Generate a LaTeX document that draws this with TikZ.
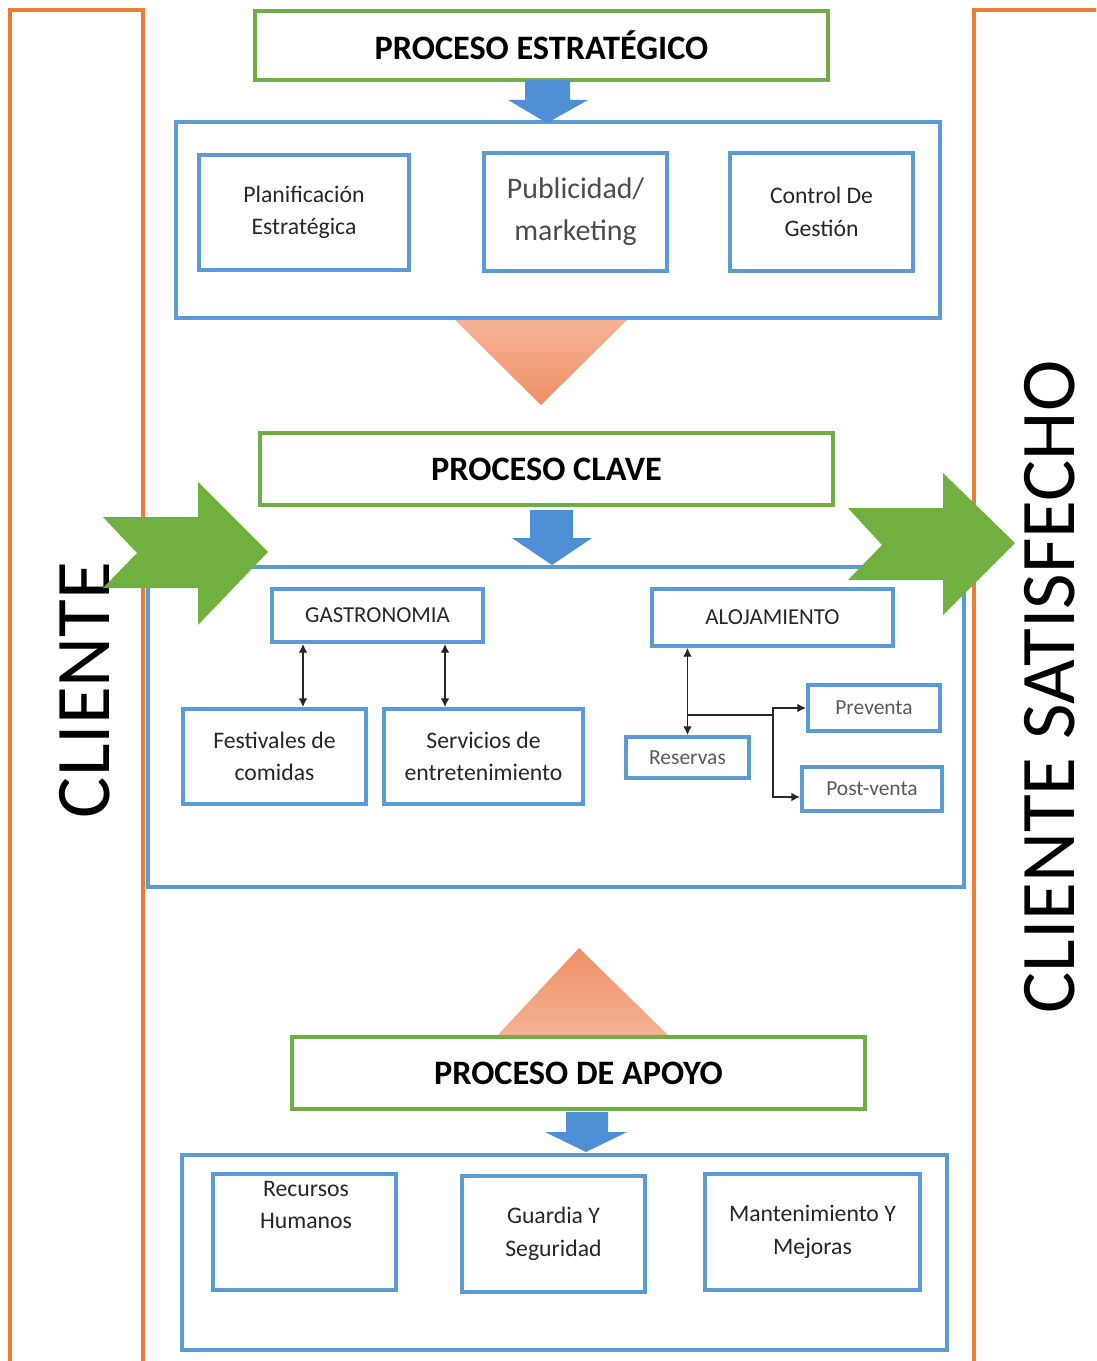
\documentclass[tikz,border=0pt]{standalone}
\usepackage{fontspec}
\setmainfont{Carlito}
\usetikzlibrary{arrows.meta}

\definecolor{boxblue}{HTML}{5B9BD5}
\definecolor{boxgreen}{HTML}{70AD47}
\definecolor{frameorange}{HTML}{ED7D31}
\definecolor{arrowgreen}{HTML}{70B03F}
\definecolor{arrowblue}{HTML}{4F8FD6}
\definecolor{trilight}{HTML}{F6B393}
\definecolor{tridark}{HTML}{EE8F66}

\tikzset{
  bluebox/.style={draw=boxblue, line width=2.2pt, inner sep=0pt, align=center, text=black!85},
  greenbox/.style={draw=boxgreen, line width=2.3pt, inner sep=0pt, minimum width=11.46cm, minimum height=1.45cm, font=\fontsize{19.5}{22}\selectfont\bfseries},
  txtmain/.style={font=\fontsize{13.5}{18.5}\selectfont},
  txtsmall/.style={font=\fontsize{12.2}{15}\selectfont, text=black!65},
  link/.style={line width=0.8pt, black!85},
  sidetext/.style={rotate=90, font=\fontsize{44}{44}\selectfont}
}

\begin{document}
\begin{tikzpicture}[x=0.02cm, y=-0.02cm, >={Latex[length=5pt,width=5pt]}]
  \useasboundingbox (0,0) rectangle (1096,1361);
  \clip (0,0) rectangle (1096,1361);

  \draw[frameorange, line width=2.3pt] (10,10) rectangle (143,1380);
  \draw[frameorange, line width=2.3pt] (974,10) rectangle (1120,1380);
  \node[sidetext] (cliente) at (85,690) {CLIENTE};
  \node[sidetext] (satisfecho) at (1050,687) {CLIENTE SATISFECHO};

  \shade[top color=trilight, bottom color=tridark] (455,320) -- (627,320) -- (541,405) -- cycle;
  \shade[top color=tridark, bottom color=trilight] (496,1037) -- (670,1037) -- (579,948) -- cycle;

  \node[greenbox, minimum height=1.38cm] (strat) at (541.5,45.5) {PROCESO ESTRATÉGICO};
  \node[bluebox, minimum width=15.28cm, minimum height=3.92cm] (stratarea) at (558,220) {};
  \node[bluebox, txtmain, minimum width=4.2cm, minimum height=2.3cm] (plan) at (304,212.5) {Planificación\\Estratégica};
  \node[bluebox, minimum width=3.66cm, minimum height=2.36cm, font=\fontsize{17}{24}\selectfont, text=black!70] (publi) at (575.5,212) {Publicidad/\\marketing};
  \node[bluebox, txtmain, minimum width=3.66cm, minimum height=2.36cm] (control) at (821.5,212) {Control De\\Gestión};

  \node[greenbox] (clave) at (546.5,469) {PROCESO CLAVE};
  \node[bluebox, minimum width=16.32cm, minimum height=6.4cm] (clavearea) at (556,727) {};
  \node[bluebox, font=\fontsize{13}{16}\selectfont, minimum width=4.22cm, minimum height=1.06cm] (gastro) at (377.5,615.5) {GASTRONOMIA};
  \node[bluebox, font=\fontsize{13}{16}\selectfont, minimum width=4.82cm, minimum height=1.14cm] (aloja) at (772.5,617.5) {ALOJAMIENTO};
  \node[bluebox, txtmain, minimum width=3.66cm, minimum height=1.9cm] (fest) at (274.5,756.5) {Festivales de\\comidas};
  \node[bluebox, txtmain, minimum width=3.98cm, minimum height=1.9cm] (serv) at (483.5,756.5) {Servicios de\\entretenimiento};
  \node[bluebox, txtsmall, minimum width=2.46cm, minimum height=0.82cm] (reserv) at (687.5,757.5) {Reservas};
  \node[bluebox, txtsmall, minimum width=2.64cm, minimum height=0.92cm] (prev) at (874,708) {Preventa};
  \node[bluebox, txtsmall, minimum width=2.8cm, minimum height=0.88cm] (post) at (872,789) {Post-venta};

  \node[greenbox] (apoyo) at (578.5,1073) {PROCESO DE APOYO};
  \node[bluebox, minimum width=15.3cm, minimum height=3.9cm] (apoyoarea) at (564.5,1252.5) {};
  \node[bluebox, minimum width=3.66cm, minimum height=2.32cm] (rrhh) at (304.5,1232) {};
  \node[txtmain, align=center, text=black!85] (rrhhtext) at (306,1205) {Recursos\\Humanos};
  \node[bluebox, txtmain, minimum width=3.66cm, minimum height=2.32cm] (guard) at (553.5,1234) {Guardia Y\\Seguridad};
  \node[bluebox, txtmain, minimum width=4.3cm, minimum height=2.32cm] (mant) at (812.5,1232) {Mantenimiento Y\\Mejoras};

  \fill[arrowblue] (525,80) -- (570,80) -- (570,100) -- (588,100) -- (547,123) -- (508,100) -- (525,100) -- cycle;
  \fill[arrowblue] (530,510) -- (573,510) -- (573,538) -- (592,538) -- (552,565) -- (512,538) -- (530,538) -- cycle;
  \fill[arrowblue] (566,1112) -- (608,1112) -- (608,1132) -- (627,1132) -- (586,1152) -- (545,1132) -- (566,1132) -- cycle;

  \fill[arrowgreen] (103,517) -- (198,517) -- (198,482) -- (268,552) -- (198,625) -- (198,588) -- (103,588) -- (137,553) -- cycle;
  \fill[arrowgreen] (848,508) -- (943,508) -- (943,473) -- (1015,543) -- (943,615) -- (943,580) -- (848,580) -- (882,545) -- cycle;

  \draw[link, <->] (303,0 |- gastro.south) -- (303,0 |- fest.north);
  \draw[link, <->] (445,0 |- gastro.south) -- (445,0 |- serv.north);
  \draw[link, <->] (reserv.north |- aloja.south) -- (reserv.north);
  \coordinate (junc) at (reserv.north |- 0,715);
  \coordinate (split) at (773,715);
  \draw[link] (junc) -- (split);
  \draw[link, ->] (split) |- (prev.west);
  \draw[link, ->] (split) |- ([yshift=-0.16cm]post.west);
\end{tikzpicture}
\end{document}
